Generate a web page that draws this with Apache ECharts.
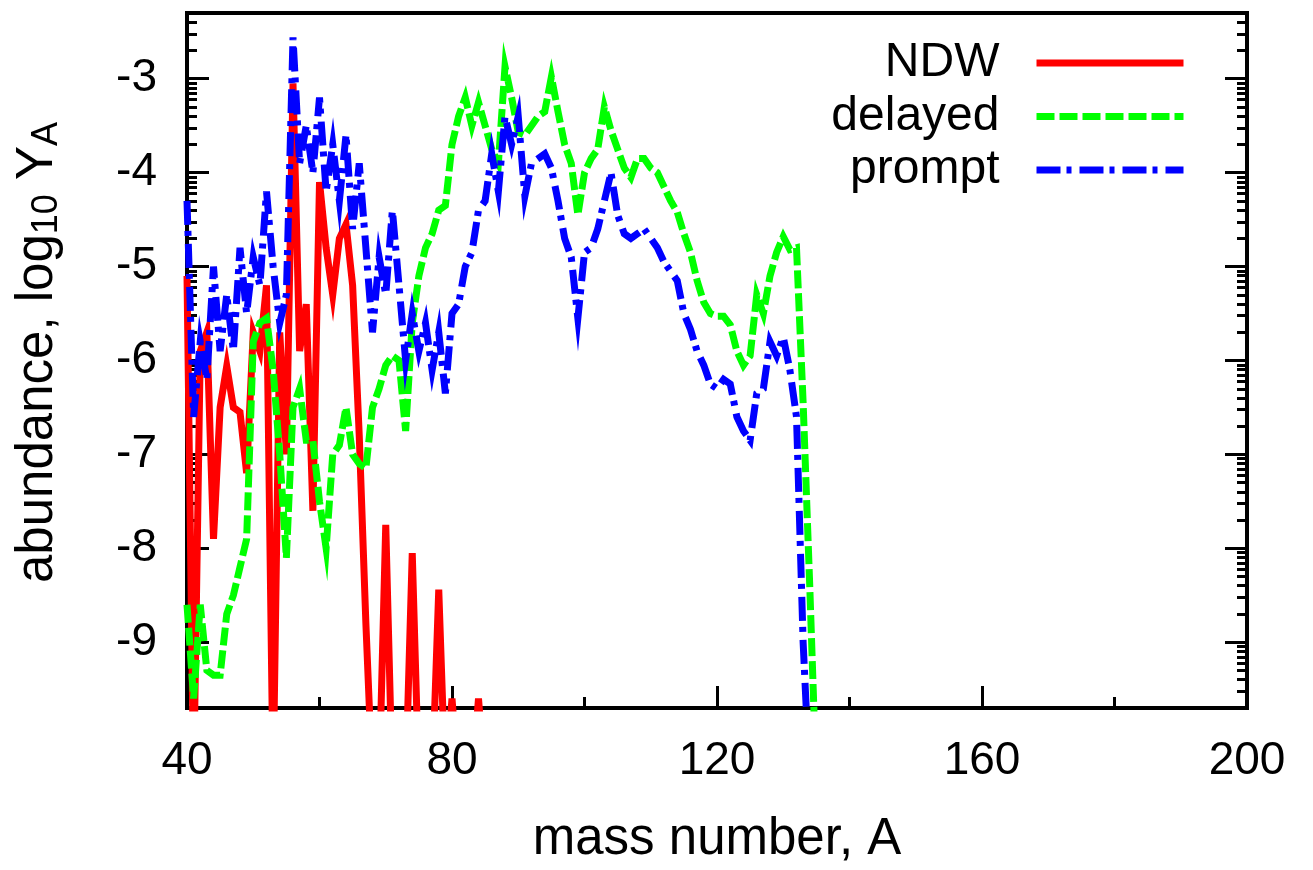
<!DOCTYPE html>
<html>
<head>
<meta charset="utf-8">
<script src="https://cdn.jsdelivr.net/npm/echarts@6/dist/echarts.min.js"></script>
<style>
html,body{margin:0;padding:0;background:#fff;}
#chart{width:1313px;height:870px;}
</style>
</head>
<body>
<div id="chart"></div>
<script>
// Mass numbers A (x values) for each series
const massNDW = [40,41,42,43,44,45,46,47,48,49,50,51,52,53,54,55,56,57,58,59,60,61,62,63,64,65,66,67,68,69,70,71,72,73,74,75,76,77,78,79,80,81,82,83,84,85];
const massDelayed = [40,41,42,43,44,45,46,47,48,49,50,51,52,53,54,55,56,57,58,59,60,61,62,63,64,65,66,67,68,69,70,71,72,73,74,75,76,77,78,79,80,81,82,83,84,85,86,87,88,89,90,91,92,93,94,95,96,97,98,99,100,101,102,103,104,105,106,107,108,109,110,111,112,113,114,115,116,117,118,119,120,121,122,123,124,125,126,127,128,129,130,131,132,133,134,135];
const massPrompt = [40,41,42,43,44,45,46,47,48,49,50,51,52,53,54,55,56,57,58,59,60,61,62,63,64,65,66,67,68,69,70,71,72,73,74,75,76,77,78,79,80,81,82,83,84,85,86,87,88,89,90,91,92,93,94,95,96,97,98,99,100,101,102,103,104,105,106,107,108,109,110,111,112,113,114,115,116,117,118,119,120,121,122,123,124,125,126,127,128,129,130,131,132,133,134];

// log10 Y_A values (values below the axis bottom are off-scale)
const ndw = [-5.1,-10.5,-5.9,-5.7,-7.9,-6.5,-6.06,-6.5,-6.55,-7.2,-5.7,-5.9,-5.2,-10.5,-5.7,-7.0,-3.05,-5.9,-5.4,-7.6,-4.1,-4.8,-5.3,-4.7,-4.55,-5.2,-6.8,-8.8,-10.5,-10.5,-7.75,-10.5,-10.5,-10.5,-8.05,-10.5,-10.5,-10.5,-8.44,-10.5,-9.6,-10.5,-10.5,-10.5,-9.6,-10.5];
const delayed = [-8.6,-9.6,-8.6,-9.3,-9.35,-9.35,-8.7,-8.5,-8.2,-7.9,-5.8,-5.6,-5.55,-6.1,-7.0,-8.1,-6.5,-6.3,-6.85,-6.85,-7.5,-8.0,-7.0,-6.9,-6.5,-7.0,-7.1,-7.15,-6.5,-6.3,-6.05,-5.95,-6.0,-6.75,-5.6,-5.1,-4.8,-4.65,-4.4,-4.35,-3.7,-3.4,-3.2,-3.5,-3.25,-3.5,-3.75,-3.9,-2.87,-3.2,-3.57,-3.6,-3.5,-3.4,-3.35,-2.98,-3.35,-3.7,-3.9,-4.45,-4.0,-3.85,-3.75,-3.3,-3.55,-3.75,-3.95,-4.05,-3.85,-3.85,-3.95,-4.0,-4.15,-4.3,-4.42,-4.65,-4.85,-5.15,-5.38,-5.5,-5.53,-5.53,-5.62,-5.9,-6.05,-5.95,-5.3,-5.5,-5.1,-4.85,-4.68,-4.82,-4.8,-6.45,-8.4,-10.5];
const prompt = [-4.3,-6.6,-5.8,-6.2,-5.0,-5.9,-5.3,-5.9,-4.8,-5.5,-4.9,-5.2,-4.2,-5.0,-5.6,-5.3,-2.56,-3.9,-3.5,-4.0,-3.2,-4.2,-3.7,-4.3,-3.6,-4.6,-3.9,-4.8,-5.7,-4.9,-5.3,-4.4,-5.2,-6.0,-5.5,-5.9,-5.6,-6.1,-5.7,-6.35,-5.5,-5.4,-5.0,-4.85,-4.4,-4.3,-3.8,-4.2,-3.4,-3.7,-3.4,-4.25,-3.9,-3.85,-3.8,-3.95,-4.3,-4.7,-4.9,-5.55,-4.85,-4.8,-4.6,-4.3,-4.0,-4.45,-4.65,-4.7,-4.65,-4.6,-4.7,-4.8,-4.95,-5.05,-5.15,-5.5,-5.67,-5.9,-6.05,-6.25,-6.3,-6.2,-6.25,-6.6,-6.75,-6.85,-6.35,-6.3,-5.8,-5.95,-5.75,-6.1,-6.6,-9.0,-10.5];

// axis tick labels
const yMajorTicks = [-9,-8,-7,-6,-5,-4,-3];
const xTickLabels = [40,80,120,160,200];
const seriesNames = ['NDW','delayed','prompt'];

const Y_MIN = -9.7, Y_MAX = -2.3;
// log-style minor ticks within each decade
const yMinorTicks = [];
for (let d = -10; d <= -3; d++) {
  for (let k = 2; k <= 9; k++) {
    const v = d + Math.log10(k);
    if (v > Y_MIN && v < Y_MAX) yMinorTicks.push(v);
  }
}

const FONT = '"Liberation Sans", Arial, Helvetica, sans-serif';
const pairs = (xs, ys) => xs.map((x, i) => [x, ys[i]]);

const baseY = {
  type: 'value', min: Y_MIN, max: Y_MAX,
  splitLine: {show: false},
  axisLine: {show: false},
  axisLabel: {show: false},
};

const chart = echarts.init(document.getElementById('chart'));
chart.setOption({
  animation: false,
  backgroundColor: '#fff',
  grid: {left: 187, right: 66, top: 13, bottom: 162, show: true, borderColor: '#000', borderWidth: 4, containLabel: false},
  legend: {
    data: seriesNames, orient: 'vertical', align: 'right',
    right: 126, top: 39, padding: 0, itemWidth: 147, itemHeight: 14, itemGap: 5.5,
    itemStyle: {opacity: 0, borderWidth: 0},
    lineStyle: {width: 7},
    textStyle: {fontFamily: FONT, fontSize: 48, lineHeight: 48, color: '#000', padding: [0, 32, 0, 0]}
  },
  xAxis: {
    type: 'value', min: 40, max: 200, interval: 40,
    name: 'mass number, A', nameLocation: 'middle', nameGap: 106,
    nameTextStyle: {fontFamily: FONT, fontSize: 51, color: '#000'},
    axisLine: {show: true, lineStyle: {color: '#000', width: 4}},
    axisTick: {show: true, inside: true, length: 22, lineStyle: {color: '#000', width: 3}},
    minorTick: {show: true, splitNumber: 2, length: 11, lineStyle: {color: '#000', width: 3}},
    axisLabel: {fontFamily: FONT, fontSize: 46, color: '#000', margin: 30,
      customValues: xTickLabels},
    splitLine: {show: false}
  },
  yAxis: [
    Object.assign({}, baseY, {
      position: 'left',
      name: 'abundance, log{s|10} Y{s|A}', nameLocation: 'middle', nameGap: 122, nameRotate: 90,
      nameTextStyle: {fontFamily: FONT, fontSize: 51, color: '#000', padding: [0, 0, 0, 16],
        rich: {s: {fontFamily: FONT, fontSize: 36, color: '#000', verticalAlign: 'bottom', padding: [18, 0, 0, 0]}}},
      axisLine: {show: true, lineStyle: {color: '#000', width: 4}},
      axisTick: {show: true, inside: true, length: 22, customValues: yMajorTicks, lineStyle: {color: '#000', width: 3}},
      axisLabel: {show: true, fontFamily: FONT, fontSize: 46, color: '#000', margin: 30, customValues: yMajorTicks}
    }),
    Object.assign({}, baseY, {
      position: 'left',
      axisTick: {show: true, inside: true, length: 10, customValues: yMinorTicks, lineStyle: {color: '#000', width: 3}}
    }),
    Object.assign({}, baseY, {
      position: 'right',
      axisTick: {show: true, inside: true, length: 22, customValues: yMajorTicks, lineStyle: {color: '#000', width: 3}}
    }),
    Object.assign({}, baseY, {
      position: 'right',
      axisTick: {show: true, inside: true, length: 10, customValues: yMinorTicks, lineStyle: {color: '#000', width: 3}}
    })
  ],
  series: [
    {name: 'NDW', type: 'line', yAxisIndex: 0, data: pairs(massNDW, ndw), symbol: 'none', color: '#ff0000',
      lineStyle: {color: '#ff0000', width: 7, type: 'solid', join: 'miter', cap: 'butt'}, clip: true},
    {name: 'delayed', type: 'line', yAxisIndex: 0, data: pairs(massDelayed, delayed), symbol: 'none', color: '#00ff00',
      lineStyle: {color: '#00ff00', width: 7, type: [18, 5], join: 'miter', cap: 'butt'}, clip: true},
    {name: 'prompt', type: 'line', yAxisIndex: 0, data: pairs(massPrompt, prompt), symbol: 'none', color: '#0000ff',
      lineStyle: {color: '#0000ff', width: 7, type: [24, 6, 5, 8], join: 'miter', cap: 'butt'}, clip: true}
  ]
});
</script>
</body>
</html>
